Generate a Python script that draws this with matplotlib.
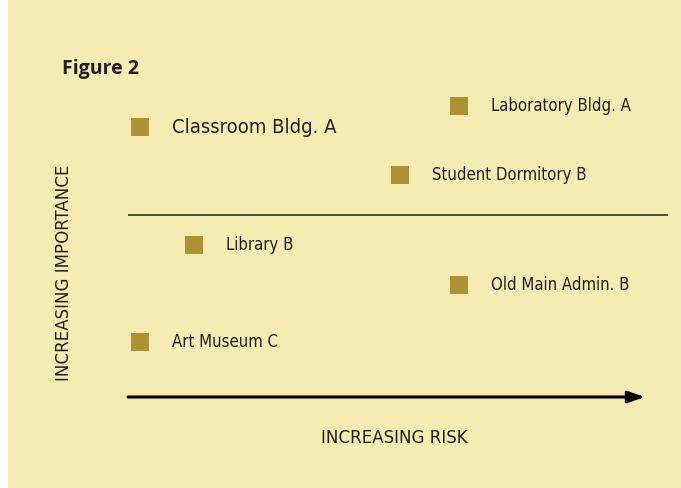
import matplotlib.pyplot as plt
from matplotlib.patches import Rectangle

# building positions on the risk / importance grid (0-100 scale)
buildings = ['Classroom Bldg. A', 'Laboratory Bldg. A', 'Student Dormitory B',
             'Library B', 'Old Main Admin. B', 'Art Museum C']
risk = [2.2, 61.3, 50.4, 12.2, 61.3, 2.2]
importance = [81.8, 88.2, 67.3, 46.1, 33.9, 16.7]
label_size = [14.5, 12, 12, 12, 12, 12]
divider = 55.2

BG = '#f7ebb4'
GOLD = '#ad9233'
INK = '#231f20'
NARROW = dict(family='DejaVu Sans', fontstretch='condensed')

fig = plt.figure(figsize=(6.81, 4.88), dpi=100)
fig.patch.set_facecolor(BG)
fig.patches.append(Rectangle((0, 0), 8 / 681, 1, transform=fig.transFigure,
                             facecolor='white', edgecolor='none'))

ax = fig.add_axes([128 / 681, 91 / 488, 540 / 681, 330 / 488])
ax.set_xlim(0, 100)
ax.set_ylim(0, 100)
ax.axis('off')

ax.scatter(risk, importance, marker='s', s=13 ** 2, color=GOLD, linewidths=0,
           clip_on=False)
for name, x, y, fs in zip(buildings, risk, importance, label_size):
    ax.annotate(name, (x, y), xytext=(23, 0), textcoords='offset points',
                va='center', ha='left', fontsize=fs, color=INK, **NARROW)

# quadrant divider and risk arrow
ax.axhline(divider, xmin=0, xmax=1, color=INK, lw=1.1)
ax.annotate('', xy=(95.7, 0), xytext=(0, 0),
            arrowprops=dict(arrowstyle='-|>,head_length=1.0,head_width=0.35',
                            color='black', lw=2.2, shrinkA=0, shrinkB=0),
            annotation_clip=False)

fig.text(62 / 681, 1 - 69 / 488, 'Figure 2', fontsize=14, fontweight='bold',
         color=INK, ha='left', va='center', family=['Open Sans', 'DejaVu Sans'])
fig.text(394 / 681, 1 - 438 / 488, 'INCREASING RISK', fontsize=13.3,
         color=INK, ha='center', va='center', **NARROW)
fig.text(64 / 681, 1 - 273 / 488, 'INCREASING IMPORTANCE', fontsize=13.3,
         color=INK, ha='center', va='center', rotation=90, **NARROW)

fig.savefig('out.png', dpi=100, facecolor=fig.get_facecolor())
plt.close(fig)
